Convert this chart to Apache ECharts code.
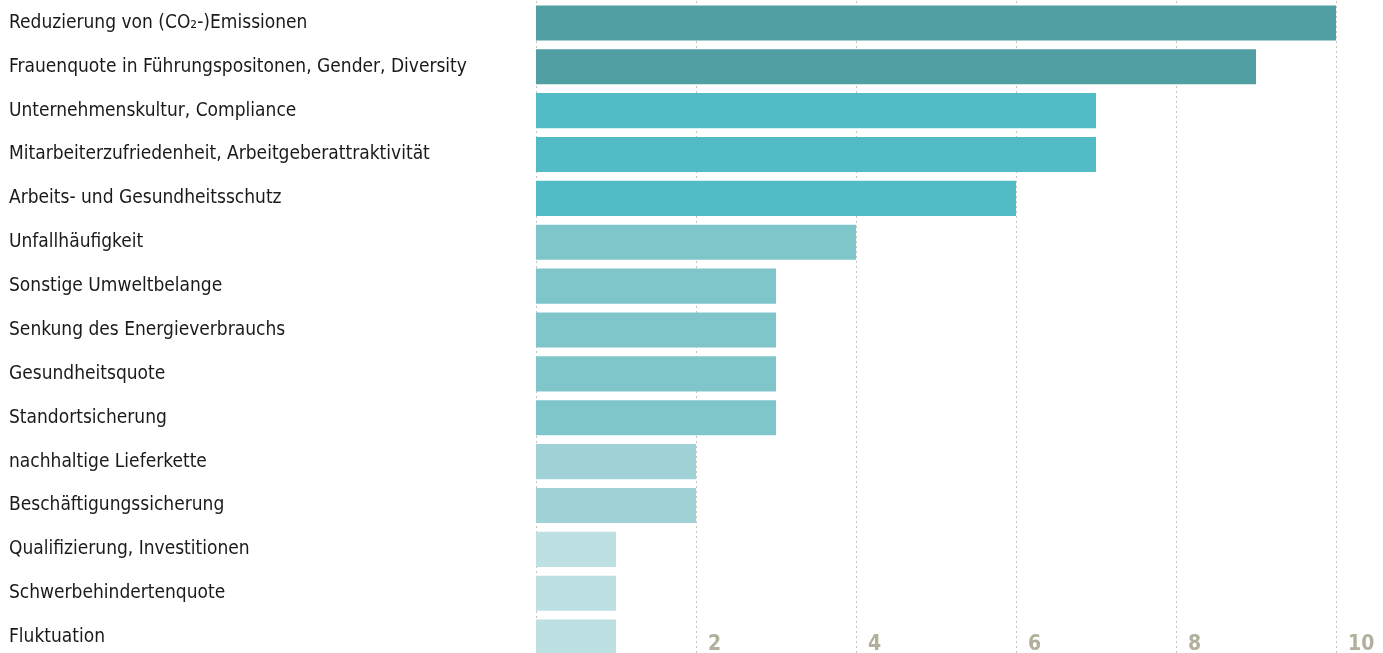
<!DOCTYPE html>
<html>
<head>
<meta charset="utf-8">
<script src="https://cdn.jsdelivr.net/npm/echarts@6/dist/echarts.min.js"></script>
<style>
  html, body { margin: 0; padding: 0; background: #fff; }
  #chart { width: 1383px; height: 653px; }
</style>
</head>
<body>
<div id="chart"></div>
<script>
// Themen und Nennungen
var categories = [
    'Reduzierung von (CO₂-)Emissionen',
    'Frauenquote in Führungspositonen, Gender, Diversity',
    'Unternehmenskultur, Compliance',
    'Mitarbeiterzufriedenheit, Arbeitgeberattraktivität',
    'Arbeits- und Gesundheitsschutz',
    'Unfallhäufigkeit',
    'Sonstige Umweltbelange',
    'Senkung des Energieverbrauchs',
    'Gesundheitsquote',
    'Standortsicherung',
    'nachhaltige Lieferkette',
    'Beschäftigungssicherung',
    'Qualifizierung, Investitionen',
    'Schwerbehindertenquote',
    'Fluktuation'
];
var values = [10, 9, 7, 7, 6, 4, 3, 3, 3, 3, 2, 2, 1, 1, 1];
var ticks = [0, 2, 4, 6, 8, 10];

// Farbe je nach Wert
function barColor(v) {
    if (v >= 8) return '#519ea3';
    if (v >= 5) return '#52bcc6';
    if (v >= 3) return '#7fc6cb';
    if (v >= 2) return '#a1d2d7';
    return '#bde0e2';
}

var myChart = echarts.init(document.getElementById('chart'));
myChart.setOption({
    animation: false,
    grid: {
        left: 536,
        right: 47,
        top: 1,
        height: 658,
        outerBoundsMode: 'none'
    },
    xAxis: {
        type: 'value',
        min: ticks[0],
        max: ticks[ticks.length - 1],
        interval: 2,
        axisLine: {show: false},
        axisTick: {show: false},
        splitLine: {
            show: true,
            lineStyle: {color: '#c4c4b6', type: [2, 3], width: 1}
        },
        axisLabel: {
            inside: true,
            margin: 4,
            align: 'left',
            padding: [0, 0, 0, 12],
            color: '#b0b09c',
            fontFamily: 'DejaVu Sans Condensed',
            fontWeight: 'bold',
            fontSize: 21,
            formatter: function (v) { return v === 0 ? '' : String(v); }
        }
    },
    yAxis: {
        type: 'category',
        inverse: true,
        data: categories,
        axisLine: {show: false},
        axisTick: {show: false},
        axisLabel: {
            align: 'left',
            margin: 527,
            color: '#1a1a1a',
            fontFamily: 'DejaVu Sans Condensed',
            fontSize: 19,
            padding: [0, 0, 3, 0]
        }
    },
    series: [{
        type: 'bar',
        barCategoryGap: '20%',
        data: values.map(function (v) {
            return {value: v, itemStyle: {color: barColor(v)}};
        })
    }]
});
</script>
</body>
</html>
